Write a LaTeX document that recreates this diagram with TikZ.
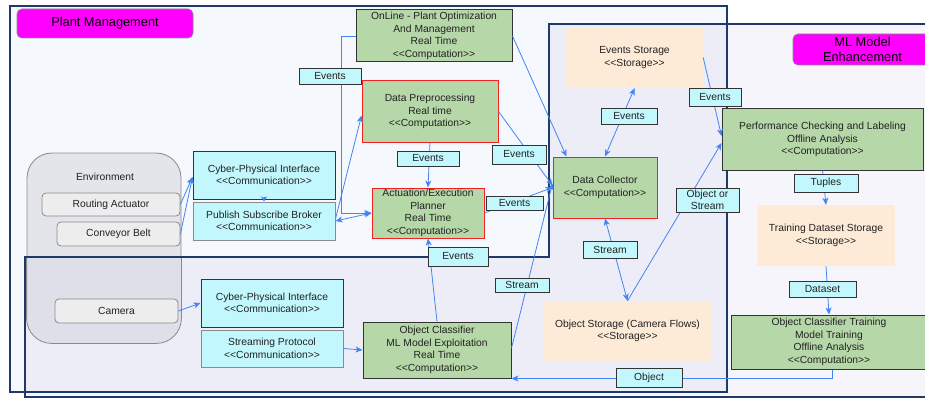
\documentclass[tikz,border=0pt]{standalone}
\usepackage{fontspec}
\setmainfont{Liberation Sans}
\usetikzlibrary{arrows.meta,calc}
\definecolor{pmfill}{HTML}{F5F8FD}
\definecolor{ovfill}{HTML}{EDEDF7}
\definecolor{mlfill}{HTML}{F5F5FB}
\definecolor{frame}{HTML}{1F3A68}
\definecolor{grn}{HTML}{B6D7A8}
\definecolor{cyn}{HTML}{C2F7FD}
\definecolor{peach}{HTML}{FDEBD7}
\definecolor{mag}{HTML}{FF00FF}
\definecolor{dk}{HTML}{333333}
\definecolor{gr}{HTML}{8A8A8A}
\definecolor{rd}{HTML}{F52020}
\definecolor{txt}{HTML}{222222}
\definecolor{conn}{HTML}{4285F4}
\definecolor{envf}{HTML}{E4E5EB}
\definecolor{envg}{HTML}{DEDFE8}
\definecolor{itemf}{HTML}{EDEDED}
\newcommand\stereo[1]{<\kern0pt<#1>\kern0pt>}
\newcommand\fsn{\fontsize{10.3}{12.5}\selectfont}
\newcommand\fsb{\fontsize{12.8}{15.4}\selectfont}
\tikzset{
  base/.style={font=\fsn, text=txt, align=center, inner sep=0pt},
  greenbox/.style={base, draw=dk, fill=grn, line width=1pt},
  redbox/.style={base, draw=rd, fill=grn, line width=1pt},
  commA/.style={base, draw=dk, fill=cyn, line width=1pt},
  commB/.style={base, draw=gr, fill=cyn, line width=1pt},
  storebox/.style={base, fill=peach},
  lbl/.style={base, draw=dk, fill=cyn, line width=0.9pt},
  envitem/.style={base, draw=gr, fill=itemf, rounded corners=4pt, line width=0.8pt},
  titlebox/.style={base, font=\fsb, text=black, draw=gr, fill=mag, rounded corners=5pt, line width=0.8pt},
  tipa/.tip={Stealth[length=7pt,width=6pt,inset=2pt]},
  link/.style={draw=conn, line width=0.8pt, -tipa},
  linkb/.style={draw=conn, line width=0.8pt, tipa-tipa},
}
\begin{document}
\begin{tikzpicture}[x=1pt,y=-1pt]
\useasboundingbox (0,0) rectangle (925,401);
% container fills
\fill[white] (0,0) rectangle (925,401);
\fill[pmfill] (10,6) rectangle (727,392);
\fill[mlfill] (727,24) rectangle (935,397);
\fill[mlfill] (25,392) rectangle (727,397);
\fill[ovfill] (25,257) rectangle (549,392);
\fill[ovfill] (549,24) rectangle (727,392);

% environment (lower part lies under the translucent lower container)
\node[base, draw=gr, fill=envf, rounded corners=25pt, line width=0.8pt, minimum width=154pt, minimum height=190pt] (env) at (104,248) {};
\begin{scope}
  \clip (25,257) rectangle (549,397);
  \fill[envg, rounded corners=25pt] (env.north west) rectangle (env.south east);
  \draw[gr, line width=0.8pt, rounded corners=25pt] (env.north west) rectangle (env.south east);
\end{scope}
\node[base] (envtext) at (105,177) {Environment};

% container borders
\draw[frame, line width=2pt] (10,6) rectangle (727,392);
\draw[frame, line width=2pt] (935,397) -- (25,397) -- (25,257) -- (549,257) -- (549,24) -- (935,24);

% titles
\node[titlebox, minimum width=176pt, minimum height=29pt] (pmtitle) at (105,23.5) {Plant Management};
\node[titlebox, minimum width=139pt, minimum height=31pt] (mltitle) at (862.5,49.5) {ML Model\\Enhancement};

\node[envitem, minimum width=138pt, minimum height=23pt] (routing) at (111,204.5) {Routing Actuator};
\node[envitem, minimum width=123pt, minimum height=24pt] (conveyor) at (118.5,234) {Conveyor Belt};
\node[envitem, minimum width=123pt, minimum height=24pt] (camera) at (116.5,311) {Camera};

% communication
\node[commA, minimum width=142pt, minimum height=48pt] (cpi1) at (264,175) {Cyber-Physical Interface\\\stereo{Communication}};
\node[commB, minimum width=142pt, minimum height=38pt] (psb) at (264,221) {Publish Subscribe Broker\\\stereo{Communication}};
\node[commA, minimum width=142pt, minimum height=48pt] (cpi2) at (272,303) {Cyber-Physical Interface\\\stereo{Communication}};
\node[commB, minimum width=142pt, minimum height=37pt] (sproto) at (272,348.5) {Streaming Protocol\\\stereo{Communication}};

% computation
\node[greenbox, minimum width=156pt, minimum height=52pt] (online) at (434,36) {OnLine - Plant Optimization\\And Management\\Real Time\\\stereo{Computation}};
\node[redbox, minimum width=136pt, minimum height=61pt] (dataprep) at (430,111.5) {Data Preprocessing\\Real time\\\stereo{Computation}};
\node[redbox, minimum width=112pt, minimum height=50pt] (actuation) at (428,213) {Actuation/Execution\\Planner\\Real Time\\\stereo{Computation}};
\node[greenbox, minimum width=148pt, minimum height=56pt] (classifier) at (437,350) {Object Classifier\\ML Model Exploitation\\Real Time\\\stereo{Computation}};
\node[redbox, minimum width=104pt, minimum height=61pt] (datacoll) at (605,187.5) {Data Collector\\\stereo{Computation}};
\node[greenbox, minimum width=201pt, minimum height=61pt] (perf) at (822.5,139.5) {Performance Checking and Labeling\\Offline Analysis\\\stereo{Computation}};
\node[greenbox, minimum width=196pt, minimum height=54pt] (oct) at (829,342) {Object Classifier Training\\Model Training\\Offline Analysis\\\stereo{Computation}};

% storage
\node[storebox, minimum width=137pt, minimum height=61pt] (evstore) at (634.5,57.5) {Events Storage\\\stereo{Storage}};
\node[storebox, minimum width=167pt, minimum height=60pt] (objstore) at (627.5,331) {Object Storage (Camera Flows)\\\stereo{Storage}};
\node[storebox, minimum width=138pt, minimum height=61pt] (trainstore) at (826,235.5) {Training Dataset Storage\\\stereo{Storage}};

% connectors
\draw[link] (routing.east) -- ([yshift=-2pt]cpi1.west);
\draw[link] (conveyor.east) -- ([yshift=-2pt]cpi1.west);
\draw[draw=conn, line width=0.8pt, -{Stealth[length=5pt,width=6pt,inset=1.5pt]}] ([yshift=3pt]cpi1.south) -- (psb.north);
\draw[link] (online.west) -- ++(-14,0) |- (actuation.west);
\draw[linkb] (psb.east) -- (actuation.west);
\draw[link] ([yshift=2pt]psb.east) -- ([yshift=-4pt]dataprep.west);
\draw[link] (dataprep.south) -- (actuation.north);
\draw[link] (dataprep.east) -- ([yshift=2pt]datacoll.west);
\draw[link] (online.east) -- ([xshift=14pt]datacoll.north west);
\draw[link] (actuation.east) -- (datacoll.west);
\draw[link] ([yshift=2pt]classifier.east) -- ([yshift=4pt]datacoll.west);
\draw[link] (classifier.north) -- (actuation.south);
\draw[linkb] (datacoll.south) -- (objstore.north);
\draw[link] (objstore.north) -- ([yshift=-3.5pt]perf.west);
\draw[linkb] (datacoll.north) -- (evstore.south);
\draw[link] (evstore.east) -- ([yshift=3.5pt]perf.west);
\draw[link] (perf.south) -- (trainstore.north);
\draw[link] (trainstore.south) -- (oct.north);
\draw[link] ([xshift=3pt]oct.south) |- (classifier.south east);
\draw[link] (camera.east) -- (cpi2.west);
\draw[link] (sproto.east) -- (classifier.west);

% connector labels
\node[lbl, minimum width=62pt, minimum height=16pt] (ev1) at (330,76) {Events};
\node[lbl, minimum width=62pt, minimum height=15pt] (ev2) at (428,158.5) {Events};
\node[lbl, minimum width=54pt, minimum height=19pt] (ev3) at (519,154.5) {Events};
\node[lbl, minimum width=57pt, minimum height=14pt] (ev4) at (514.5,203) {Events};
\node[lbl, minimum width=60pt, minimum height=19pt] (ev5) at (458,256.5) {Events};
\node[lbl, minimum width=54pt, minimum height=14pt] (st1) at (522,285) {Stream};
\node[lbl, minimum width=54pt, minimum height=17pt] (st2) at (610,249.5) {Stream};
\node[lbl, minimum width=56pt, minimum height=16pt] (ev6) at (629,116) {Events};
\node[lbl, minimum width=52pt, minimum height=18pt] (ev7) at (715,97) {Events};
\node[lbl, minimum width=63pt, minimum height=24pt] (objstream) at (707.5,200) {Object or\\Stream};
\node[lbl, minimum width=64pt, minimum height=18pt] (tuples) at (826,183) {Tuples};
\node[lbl, minimum width=67pt, minimum height=16pt] (dataset) at (822.5,289) {Dataset};
\node[lbl, minimum width=66pt, minimum height=19pt] (objlbl) at (649,377.5) {Object};
\end{tikzpicture}
\end{document}
